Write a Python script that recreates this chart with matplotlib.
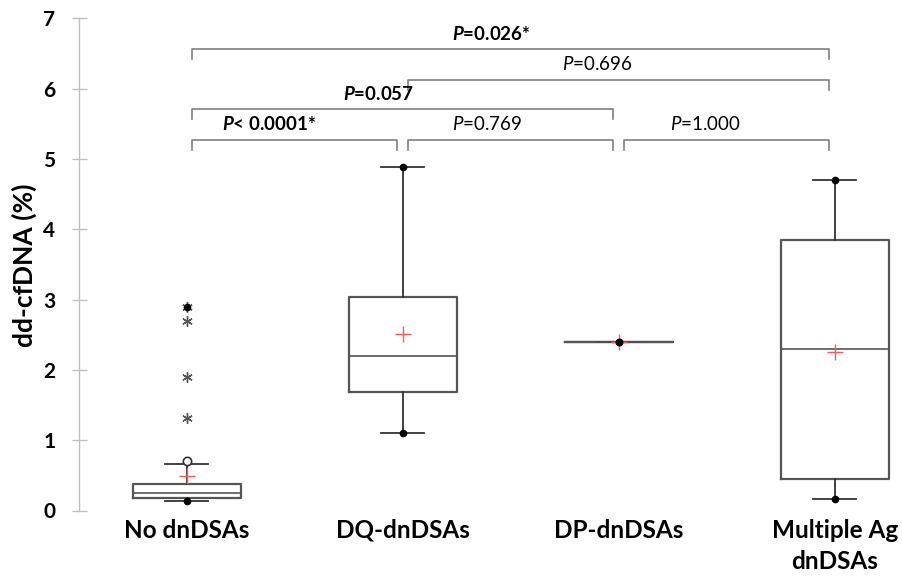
import matplotlib
matplotlib.use("Agg")
import matplotlib.pyplot as plt

plt.rcParams['font.family'] = ['Lato', 'DejaVu Sans']
plt.rcParams['mathtext.fontset'] = 'custom'
plt.rcParams['mathtext.rm'] = 'Lato'
plt.rcParams['mathtext.it'] = 'Lato:italic'
plt.rcParams['mathtext.bf'] = 'Lato:bold'
plt.rcParams['mathtext.bfit'] = 'Lato:bold:italic'

# ---------------- data ----------------
categories = ["No dnDSAs", "DQ-dnDSAs", "DP-dnDSAs", "Multiple Ag\ndnDSAs"]
q1 = [0.18, 1.68, 2.40, 0.45]
median = [0.25, 2.20, 2.40, 2.30]
q3 = [0.37, 3.03, 2.40, 3.84]
whisker_low = [0.13, 1.10, 2.40, 0.16]
whisker_high = [0.66, 4.89, 2.40, 4.70]
means = [0.49, 2.51, 2.40, 2.25]
minimum = [0.13, 1.10, 2.40, 0.16]
maximum = [2.90, 4.89, 2.40, 4.70]
mild_outliers = [0.70]          # No dnDSAs (open circle)
extreme_outliers = [2.90, 2.70, 1.90, 1.31]   # No dnDSAs (stars)

# comparisons: (group i, group j, label, bold)
comparisons = [
    (0, 1, "< 0.0001*", True),
    (1, 2, "=0.769", False),
    (2, 3, "=1.000", False),
    (0, 2, "=0.057", True),
    (1, 3, "=0.696", False),
    (0, 3, "=0.026*", True),
]
bracket_heights = [5.27, 5.27, 5.27, 5.71, 6.12, 6.56]
label_x = [0.38, 1.39, 2.40, 0.89, 1.90, 1.41]
label_y = [5.50, 5.50, 5.50, 5.93, 6.35, 6.78]
yticks = [0, 1, 2, 3, 4, 5, 6, 7]

# ---------------- figure ----------------
fig = plt.figure(figsize=(9.03, 5.76), dpi=100)
ax = fig.add_axes([78.7 / 903, 1 - 510.5 / 576, 820.8 / 903, (510.5 - 18.3) / 576])

pos = list(range(len(categories)))
stats = []
for i in pos:
    stats.append(dict(med=median[i], q1=q1[i], q3=q3[i], whislo=whisker_low[i],
                      whishi=whisker_high[i], mean=means[i], fliers=[]))

box_col = '#555555'
ax.bxp(stats, positions=pos, widths=0.5, capwidths=0.2, showmeans=True,
       showfliers=False, patch_artist=False,
       boxprops=dict(color=box_col, lw=1.6),
       medianprops=dict(color=box_col, lw=1.2),
       whiskerprops=dict(color='#333333', lw=1.3),
       capprops=dict(color='#333333', lw=1.3),
       meanprops=dict(marker='+', markeredgecolor='#ff5555', markersize=11,
                      markeredgewidth=1.0, linestyle='none'))

# min / max dots
ax.plot(pos, minimum, 'o', color='black', markersize=4.5, zorder=5)
ax.plot(pos, maximum, 'o', color='black', markersize=4.5, zorder=5)

# outliers for No dnDSAs
ax.plot([0] * len(mild_outliers), mild_outliers, 'o', mfc='white', mec='#333333',
        markersize=6, mew=1.2, zorder=4)
ax.plot([0] * len(extreme_outliers), extreme_outliers, marker=(6, 2, 0),
        linestyle='none', color='#555555', markersize=7.5, mew=1.0, zorder=4)

# brackets
br_col = '#7f7f7f'
drop = 0.14
off = 0.025
for k, (i, j, txt, bold) in enumerate(comparisons):
    h = bracket_heights[k]
    ax.plot([i + off, i + off, j - off, j - off], [h - drop, h, h, h - drop],
            color=br_col, lw=1.2, clip_on=False)
    if bold:
        s = r'$\mathbfit{P}$' + txt
        ax.text(label_x[k], label_y[k], s, ha='center', va='center', fontsize=13.5,
                fontweight='bold', clip_on=False)
    else:
        s = r'$\mathit{P}$' + txt
        ax.text(label_x[k], label_y[k], s, ha='center', va='center', fontsize=13.5,
                clip_on=False)

ax.set_xlim(-0.5, 3.3)
ax.set_ylim(0, 7)
ax.set_yticks(yticks)
ax.set_yticklabels([str(t) for t in yticks], fontweight='bold', fontsize=15)
ax.set_xticks(pos)
ax.set_xticklabels(categories, fontweight='bold', fontsize=17.5, linespacing=1.45)
ax.tick_params(axis='x', length=0, pad=6)
ax.tick_params(axis='y', direction='inout', length=10.8, width=1, color='#bfbfbf',
               pad=11.5)
for s in ['top', 'right', 'bottom']:
    ax.spines[s].set_visible(False)
ax.spines['left'].set_color('#bfbfbf')
ax.spines['left'].set_linewidth(1)
ax.spines['left'].set_bounds(0, 7)

fig.text(24 / 903, 1 - 265 / 576, 'dd-cfDNA (%)', rotation=90, ha='center',
         va='center', fontweight='bold', fontsize=19)

fig.savefig('out.png', dpi=100)
